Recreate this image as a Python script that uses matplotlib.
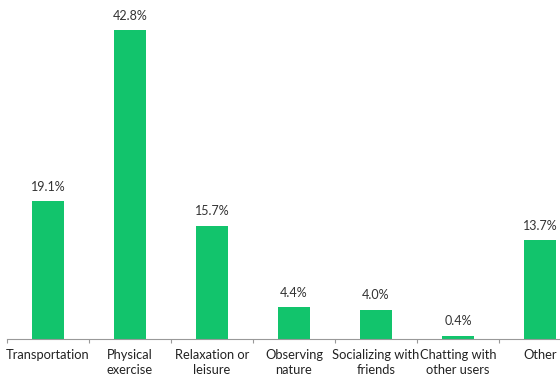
import matplotlib

matplotlib.use("Agg")
import matplotlib.pyplot as plt

categories = [
    "Transportation",
    "Physical\nexercise",
    "Relaxation or\nleisure",
    "Observing\nnature",
    "Socializing with\nfriends",
    "Chatting with\nother users",
    "Other",
]
shares = [19.1, 42.8, 15.7, 4.4, 4.0, 0.4, 13.7]

plt.rcParams["font.family"] = ["Lato", "DejaVu Sans"]

fig = plt.figure(figsize=(5.6, 3.79), dpi=100)
ax = fig.add_axes([7 / 560, 40 / 379, 553 / 560, 339 / 379])

positions = range(len(categories))
bars = ax.bar(positions, shares, width=0.39, color="#12c46c")
for bar, value in zip(bars, shares):
    ax.text(
        bar.get_x() + bar.get_width() / 2,
        value + 1.2,
        f"{value:.1f}%",
        ha="center",
        va="bottom",
        fontsize=9,
        color="#333333",
    )

ax.set_xlim(-0.5, 6.245)
ax.set_ylim(0, 47)
ax.set_yticks([])
for side in ("top", "right", "left"):
    ax.spines[side].set_visible(False)
ax.spines["bottom"].set_color("#999999")
ax.spines["bottom"].set_linewidth(0.8)

ax.set_xticks([p - 0.5 for p in positions], minor=False)
ax.set_xticklabels([])
ax.tick_params(axis="x", which="major", length=3, color="#999999", width=0.8)
ax.set_xticks(list(positions), minor=True)
ax.set_xticklabels(categories, minor=True, linespacing=1.35)
ax.tick_params(axis="x", which="minor", length=0, pad=7, labelsize=9.3, labelcolor="#222222")

fig.savefig("out.png", dpi=100)
